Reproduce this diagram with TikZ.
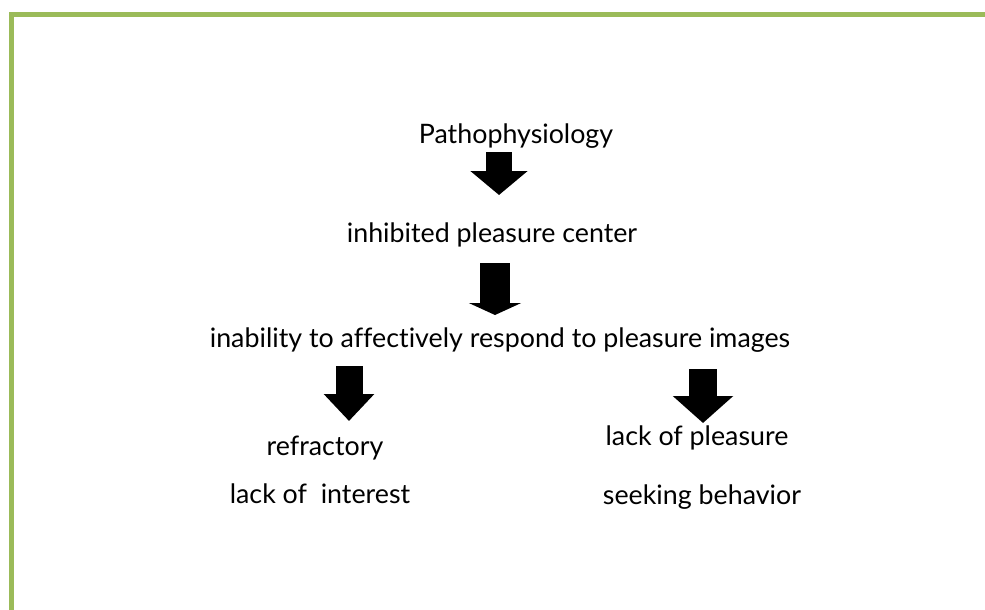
\documentclass[tikz,border=0pt]{standalone}
\usepackage{fontspec}
\setmainfont[Ligatures=NoCommon]{Lato}
\usetikzlibrary{arrows.meta}
\definecolor{framegreen}{RGB}{155,187,89}
\begin{document}
\begin{tikzpicture}[x=1pt, y=-1pt,
  lbl/.style={anchor=base, inner sep=0pt, font=\fontsize{26.8}{32}\selectfont},
  blk/.style={line width=#1, draw=black}]
\useasboundingbox (0,0) rectangle (985,610);
% frame
\draw[framegreen, line width=5pt] (11.5,610) -- (11.5,14.5) -- (985,14.5);
% texts
\node[lbl] (tpatho) at (516,143) {Pathophysiology};
\node[lbl] (tinhib) at (492,242) {inhibited pleasure center};
\node[lbl] (tinab) at (500,347) {inability to affectively respond to pleasure images};
\node[lbl] (trefr) at (325,455) {refractory};
\node[lbl] (tlackint) at (320,503) {lack of~~interest};
\node[lbl] (tlackpl) at (697,445) {lack of pleasure};
\node[lbl] (tseek) at (702,504) {seeking behavior};
% arrows
\coordinate (a1top) at (499,152);
\coordinate (a1tip) at (499,195);
\coordinate (a2top) at (495,263);
\coordinate (a2tip) at (495,315);
\coordinate (a3top) at (349,366);
\coordinate (a3tip) at (349,421);
\coordinate (a4top) at (703,369);
\coordinate (a4tip) at (703,423);
\draw[blk=26pt, -{Triangle[width=56pt, length=24pt]}] (a1top) -- (a1tip);
\draw[blk=30pt, -{Triangle[width=52pt, length=12pt]}] (a2top) -- (a2tip);
\draw[blk=27pt, -{Triangle[width=49pt, length=27pt]}] (a3top) -- (a3tip);
\draw[blk=28pt, -{Triangle[width=59pt, length=27pt]}] (a4top) -- (a4tip);
\end{tikzpicture}
\end{document}
